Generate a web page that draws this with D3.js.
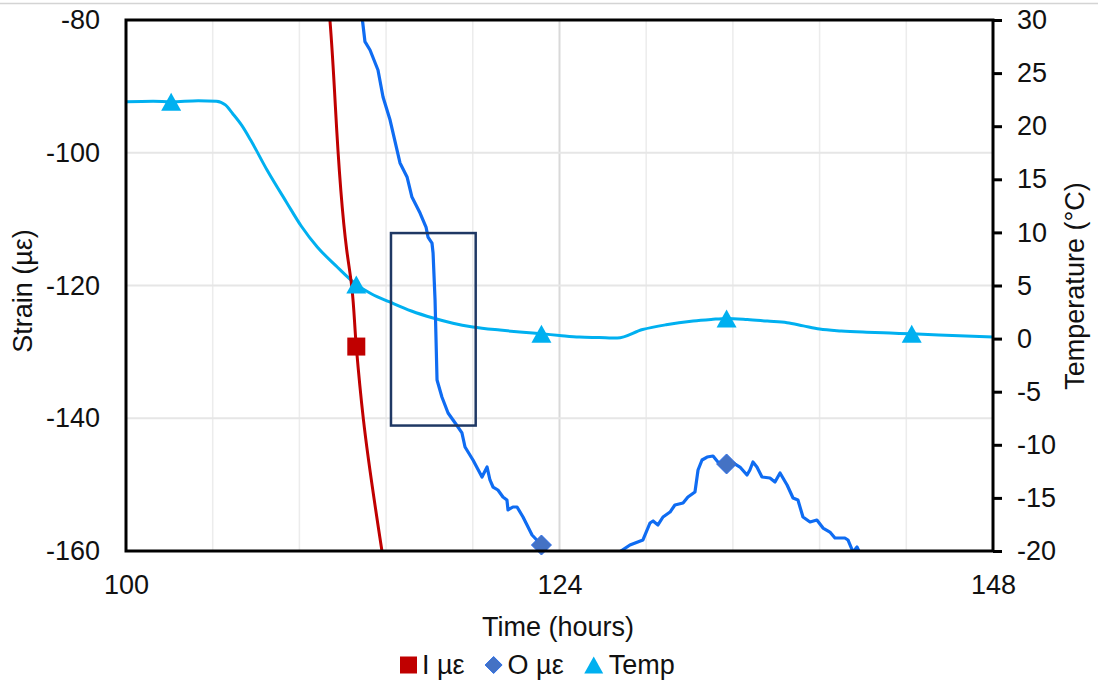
<!DOCTYPE html>
<html>
<head>
<meta charset="utf-8">
<script src="https://cdn.jsdelivr.net/npm/d3@7"></script>
<style>
  html, body { margin: 0; padding: 0; background: #ffffff; }
  svg { display: block; font-family: "Liberation Sans", Arial, sans-serif; }
</style>
</head>
<body>
<svg id="chart" width="1098" height="683"></svg>
<script>
// ---- data ----
// Time in hours, strain in microstrain, temperature in degrees C
const markerHours = [102.5, 112.75, 123.0, 133.25, 143.5];

const innerHours  = [111.2, 111.29, 112.22, 112.50, 112.75, 113.14, 114.17, 114.34];
const innerStrain = [-77.0, -80.0, -114.65, -120.2, -129.2, -140.1, -160.0, -163.0];

const outerHours = [
  113.04, 113.10, 113.23, 113.51, 113.95, 114.23, 114.62, 115.17, 115.56, 115.83,
  116.28, 116.61, 116.72, 116.94, 117.00, 117.11, 117.22, 117.49, 117.83, 118.38,
  118.60, 118.77, 119.21, 119.71, 119.99, 120.15, 120.32, 120.59, 120.87, 121.09,
  121.15, 121.42, 121.65, 121.98, 122.48, 123.00, 123.31, 123.47, 124.5, 126.0,
  127.0, 127.24, 127.90, 128.62, 129.01, 129.18, 129.45, 129.73, 130.12, 130.39,
  130.84, 131.11, 131.50, 131.67, 131.89, 132.17, 132.50, 132.77, 133.25, 133.61,
  133.99, 134.38, 134.54, 134.71, 134.93, 135.21, 135.65, 135.93, 136.21, 136.60,
  136.93, 137.20, 137.48, 137.87, 138.25, 138.59, 138.97, 139.25, 139.80, 139.97,
  140.25, 140.47, 140.63, 141.2, 142.3, 143.5
];
const outerStrain = [
  -78.5, -80.26, -83.27, -84.52, -87.53, -91.60, -95.07, -101.54, -103.65, -106.67,
  -109.08, -111.19, -112.70, -113.60, -115.10, -122.19, -134.24, -136.80, -139.21, -141.32,
  -142.22, -144.33, -146.29, -148.85, -147.35, -149.30, -150.36, -150.81, -151.87, -152.32,
  -153.82, -153.37, -153.37, -154.88, -157.59, -159.10, -160.15, -161.3, -163.0, -164.0,
  -162.0, -160.30, -159.10, -158.34, -155.78, -155.48, -156.08, -154.88, -154.13, -153.07,
  -152.77, -151.87, -151.11, -147.80, -146.29, -145.84, -145.69, -146.59, -146.89, -146.74,
  -147.35, -148.55, -147.80, -146.59, -147.35, -148.85, -149.00, -149.61, -148.25, -150.06,
  -152.02, -152.32, -154.88, -155.63, -155.33, -156.54, -157.14, -158.04, -158.04, -158.34,
  -160.15, -159.40, -160.30, -162.0, -163.5, -165.0
];

const tempHours = [
  100.0, 101.5, 102.5, 104.0, 105.0, 105.5, 105.9, 106.4, 106.9, 107.8,
  108.9, 109.7, 110.6, 111.6, 112.75, 113.6, 114.6, 115.8, 117.0, 118.1,
  119.2, 120.7, 121.8, 123.0, 124.0, 125.1, 126.2, 127.2, 128.6,
  129.9, 131.4, 132.4, 133.25, 134.4, 135.5, 136.6, 137.5, 138.4, 139.6,
  141.0, 142.3, 143.5, 145.0, 146.5, 148.0
];
const tempValues = [
  22.3, 22.35, 22.3, 22.4, 22.35, 22.0, 21.2, 20.1, 18.7, 15.9,
  12.8, 10.6, 8.6, 6.9, 5.1, 4.2, 3.45, 2.6, 1.94, 1.45,
  1.1, 0.8, 0.62, 0.45, 0.3, 0.15, 0.1, 0.05, 0.85,
  1.3, 1.65, 1.8, 1.9, 1.8, 1.65, 1.5, 1.2, 0.9, 0.72,
  0.6, 0.52, 0.45, 0.35, 0.25, 0.15
];

// highlighted window on the outer strain drop
const boxHours  = [114.67, 119.36];
const boxStrain = [-112.1, -141.1];

const xTicks = [100, 124, 148];
const strainTicks = [-80, -100, -120, -140, -160];
const tempTicks = [30, 25, 20, 15, 10, 5, 0, -5, -10, -15, -20];
const gridHours = [104.8, 109.6, 114.4, 119.2, 124, 128.8, 133.6, 138.4, 143.2];
const gridStrain = [-100, -120, -140];

const seriesNames = ["I \u00b5\u03b5", "O \u00b5\u03b5", "Temp"];
const seriesColors = ["#c00000", "#0f6cf2", "#00b0f0"];

// ---- layout ----
const svg = d3.select("#chart");
const L = 126, R = 993, T = 20, B = 551;
const ink = "#111";

const x = d3.scaleLinear().domain([100, 148]).range([L, R]);
const y = d3.scaleLinear().domain([-160, -80]).range([B, T]);
const yT = d3.scaleLinear().domain([-20, 30]).range([B, T]);

// thin border line along the top of the image
svg.append("line").attr("x1", 0).attr("x2", 1098).attr("y1", 3.5).attr("y2", 3.5)
  .attr("stroke", "#d4d4d4").attr("stroke-width", 1.5);

// gridlines
svg.append("g").selectAll("line").data(gridHours).join("line")
  .attr("x1", d => x(d)).attr("x2", d => x(d)).attr("y1", T).attr("y2", B)
  .attr("stroke", d => d === 124 ? "#d9d9d9" : "#ececec")
  .attr("stroke-width", d => d === 124 ? 2 : 1.5);
svg.append("g").selectAll("line").data(gridStrain).join("line")
  .attr("x1", L).attr("x2", R).attr("y1", d => y(d)).attr("y2", d => y(d))
  .attr("stroke", "#e6e6e6").attr("stroke-width", 2);

// clip to plot area
svg.append("clipPath").attr("id", "plot").append("rect")
  .attr("x", L).attr("y", T).attr("width", R - L).attr("height", B - T);

const plot = svg.append("g").attr("clip-path", "url(#plot)");

const zipSeries = (hs, vs) => hs.map((h, i) => ({ h, v: vs[i] }));
const innerData = zipSeries(innerHours, innerStrain);
const outerData = zipSeries(outerHours, outerStrain);
const tempData = zipSeries(tempHours, tempValues);

const outerLine = d3.line().x(d => x(d.h)).y(d => y(d.v));
const innerLine = d3.line().x(d => x(d.h)).y(d => y(d.v)).curve(d3.curveMonotoneY);
const tempLine = d3.line().x(d => x(d.h)).y(d => yT(d.v)).curve(d3.curveMonotoneX);

plot.append("path").datum(tempData).attr("d", tempLine)
  .attr("fill", "none").attr("stroke", seriesColors[2]).attr("stroke-width", 3)
  .attr("stroke-linejoin", "round");
plot.append("path").datum(outerData).attr("d", outerLine)
  .attr("fill", "none").attr("stroke", seriesColors[1]).attr("stroke-width", 3.2)
  .attr("stroke-linejoin", "round");
plot.append("path").datum(innerData).attr("d", innerLine)
  .attr("fill", "none").attr("stroke", seriesColors[0]).attr("stroke-width", 3)
  .attr("stroke-linejoin", "round");

// highlighted window
svg.append("rect")
  .attr("x", x(boxHours[0])).attr("y", y(boxStrain[0]))
  .attr("width", x(boxHours[1]) - x(boxHours[0]))
  .attr("height", y(boxStrain[1]) - y(boxStrain[0]))
  .attr("fill", "none").attr("stroke", "#1f3864").attr("stroke-width", 2.5);

// markers at the sampled hours that fall inside the axes
const isMarked = d => markerHours.includes(d.h);
const inStrain = d => d.v >= -160 && d.v <= -80;

const sq = 18, dm = 20;
svg.append("g").selectAll("rect").data(innerData.filter(d => isMarked(d) && inStrain(d))).join("rect")
  .attr("x", d => x(d.h) - sq / 2).attr("y", d => y(d.v) - sq / 2)
  .attr("width", sq).attr("height", sq).attr("fill", seriesColors[0]);

const diamond = s => `M0,${-s / 2}L${s / 2},0L0,${s / 2}L${-s / 2},0Z`;
svg.append("g").selectAll("path").data(outerData.filter(d => isMarked(d) && inStrain(d))).join("path")
  .attr("transform", d => `translate(${x(d.h)},${y(d.v)})`)
  .attr("d", diamond(dm)).attr("fill", "#4472c4").attr("stroke", "#2a6de8").attr("stroke-width", 1);

const tri = (w, h) => `M0,${-h / 2}L${w / 2},${h / 2}L${-w / 2},${h / 2}Z`;
svg.append("g").selectAll("path").data(tempData.filter(isMarked)).join("path")
  .attr("transform", d => `translate(${x(d.h)},${yT(d.v)})`)
  .attr("d", tri(20, 18)).attr("fill", seriesColors[2]);

// frame
svg.append("rect").attr("x", L).attr("y", T).attr("width", R - L).attr("height", B - T)
  .attr("fill", "none").attr("stroke", "#000").attr("stroke-width", 3);

// axes
const fontSize = 27;
const gL = svg.append("g").attr("transform", `translate(${L},0)`)
  .call(d3.axisLeft(y).tickValues(strainTicks).tickSize(0).tickPadding(26).tickFormat(d3.format("d")));
const gB = svg.append("g").attr("transform", `translate(0,${B})`)
  .call(d3.axisBottom(x).tickValues(xTicks).tickSize(0).tickPadding(24).tickFormat(d3.format("d")));
const gR = svg.append("g").attr("transform", `translate(${R},0)`)
  .call(d3.axisRight(yT).tickValues(tempTicks).tickSize(9).tickPadding(15).tickFormat(d3.format("d")));

[gL, gB, gR].forEach(g => {
  g.select(".domain").remove();
  g.selectAll("text").attr("font-size", fontSize).attr("fill", ink)
    .attr("font-family", '"Liberation Sans", Arial, sans-serif');
});
gL.selectAll("text").text(d => d3.format("d")(d).replace("\u2212", "-"));
gR.selectAll("text").text(d => d3.format("d")(d).replace("\u2212", "-"));
gR.selectAll("line").attr("stroke", "#000").attr("stroke-width", 3);

// axis titles
svg.append("text").attr("x", 558).attr("y", 636).attr("text-anchor", "middle")
  .attr("font-size", fontSize).attr("fill", ink).text("Time (hours)");
svg.append("text").attr("transform", "translate(32,291) rotate(-90)").attr("text-anchor", "middle")
  .attr("font-size", fontSize).attr("fill", ink).text("Strain (\u00b5\u03b5)");
svg.append("text").attr("transform", "translate(1084,286) rotate(-90)").attr("text-anchor", "middle")
  .attr("font-size", fontSize).attr("fill", ink).text("Temperature (\u00b0C)");

// legend
const legend = svg.append("g").attr("transform", "translate(400,665)");
let lx = 0;
const legendSymbols = [
  g => g.append("rect").attr("x", 0).attr("y", -8.5).attr("width", 17).attr("height", 17).attr("fill", seriesColors[0]),
  g => g.append("path").attr("transform", "translate(9,0)").attr("d", diamond(17)).attr("fill", "#4472c4").attr("stroke", "#2a6de8"),
  g => g.append("path").attr("transform", "translate(10,0)").attr("d", tri(19, 17)).attr("fill", seriesColors[2])
];
seriesNames.forEach((name, i) => {
  const item = legend.append("g").attr("transform", `translate(${lx},0)`);
  legendSymbols[i](item);
  const symW = i === 0 ? 17 : (i === 1 ? 18 : 20);
  const t = item.append("text").attr("x", symW + 5).attr("y", 9).attr("font-size", 27)
    .attr("fill", ink).text(name);
  lx += symW + 5 + t.node().getComputedTextLength() + 20;
});
</script>
</body>
</html>
